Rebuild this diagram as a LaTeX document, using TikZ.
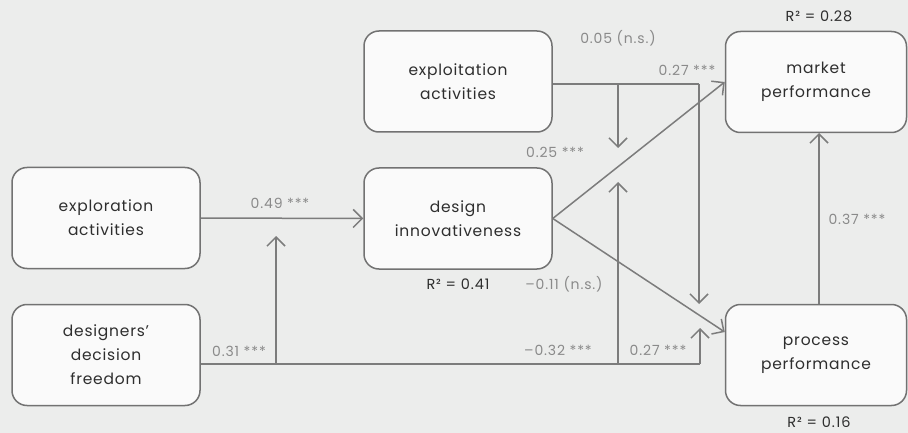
\documentclass[tikz,border=0pt]{standalone}
\usepackage{fontspec}
\setmainfont{Poppins}
\newfontfamily\boxfont[LetterSpace=5]{Poppins}
\newfontfamily\labfont[LetterSpace=6]{Poppins}
\usetikzlibrary{arrows.meta}
\definecolor{bgcol}{HTML}{ECEDEC}
\definecolor{boxfill}{HTML}{FAFAFA}
\definecolor{boxline}{HTML}{727272}
\definecolor{linecol}{HTML}{7C7C7C}
\definecolor{coefcol}{HTML}{8A8A8A}
\definecolor{maintext}{HTML}{2E2E2E}
\tikzset{
  varbox/.style={draw=boxline, line width=1.5pt, fill=boxfill, rounded corners=15pt,
    minimum height=101pt, align=center, text=maintext,
    font=\boxfont\fontsize{15.5}{24}\selectfont},
  path/.style={draw=linecol, line width=1.5pt},
  arr/.style={path, -{Straight Barb[length=9pt,width=18pt,line width=1.5pt]}},
  coef/.style={text=coefcol, font=\labfont\fontsize{14}{16}\selectfont, inner sep=0pt},
  rsq/.style={text=maintext, font=\labfont\fontsize{14.5}{16}\selectfont, inner sep=0pt},
}
\newcommand{\stars}{{\fontsize{14}{16}\selectfont ***}}
\begin{document}
\begin{tikzpicture}[x=1pt,y=-1pt]
  \fill[bgcol] (0,0) rectangle (908,433);
  \useasboundingbox (0,0) rectangle (908,433);

  % constructs
  \node[varbox, minimum width=188pt] (explor) at (106,218) {exploration\\activities};
  \node[varbox, minimum width=188pt] (freedom) at (106,355) {designers’\\decision\\freedom};
  \node[varbox, minimum width=188pt] (exploit) at (458,81.5) {exploitation\\activities};
  \node[varbox, minimum width=188pt] (innov) at (458,218.5) {design\\innovativeness};
  \node[varbox, minimum width=181pt] (market) at (816,82) {market\\performance};
  \node[varbox, minimum width=181pt] (process) at (816,355) {process\\performance};

  % routing points
  \coordinate (fStart) at ([yshift=-9pt]freedom.east);
  \coordinate (fA) at (276,364);
  \coordinate (fB) at (618,364);
  \coordinate (fC) at (700,364);
  \coordinate (fAtip) at (276,236);
  \coordinate (fBtip) at (618,182);
  \coordinate (fCtip) at (700,328);
  \coordinate (eStart) at ([yshift=-2.5pt]exploit.east);
  \coordinate (eA) at (618,84);
  \coordinate (eB) at (699,84);
  \coordinate (eAtip) at (618,148);
  \coordinate (eBtip) at (699,304);
  \coordinate (procIn) at ([yshift=23pt]process.west);
  \coordinate (procTop) at (819,304);
  \coordinate (mktBot) at (819,133);

  % direct effects
  \draw[arr] (explor.east) -- (innov.west);
  \draw[arr] (innov.east) -- (market.west);
  \draw[arr] (innov.east) -- (procIn);
  \draw[arr] (procTop) -- (mktBot);

  % moderating paths
  \draw[path] (fStart) -- (fC);
  \draw[arr] (fA) -- (fAtip);
  \draw[arr] (fB) -- (fBtip);
  \draw[arr] (fC) -- (fCtip);
  \draw[path] (eStart) -- (eB);
  \draw[arr] (eA) -- (eAtip);
  \draw[arr] (eB) -- (eBtip);

  % coefficients
  \node[coef] (c1) at (280,203) {0.49 \stars};
  \node[coef] (c2) at (239,351) {0.31 \stars};
  \node[coef] (c3) at (618,38) {0.05 (n.s.)};
  \node[coef] (c4) at (687,70) {0.27 \stars};
  \node[coef] (c5) at (555,152) {0.25 \stars};
  \node[coef] (c6) at (564,284) {–0.11 (n.s.)};
  \node[coef] (c7) at (558,350) {–0.32 \stars};
  \node[coef] (c8) at (658,350) {0.27 \stars};
  \node[coef] (c9) at (857,219) {0.37 \stars};

  % explained variance
  \node[rsq] (r1) at (458,284) {R² = 0.41};
  \node[rsq] (r2) at (819,16) {R² = 0.28};
  \node[rsq] (r3) at (819,422) {R² = 0.16};
\end{tikzpicture}
\end{document}
